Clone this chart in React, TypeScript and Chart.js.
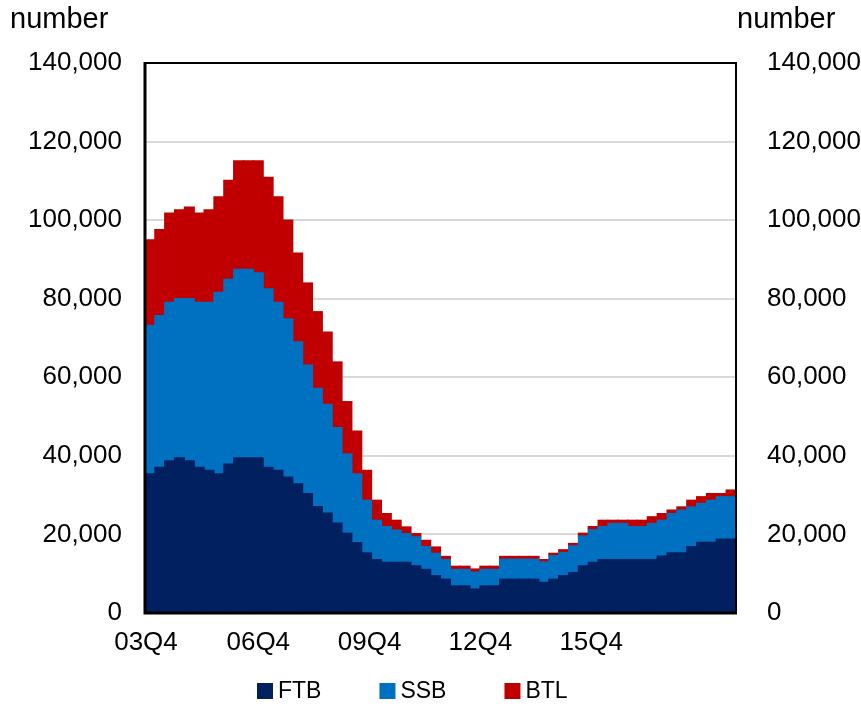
import React, { useEffect, useRef } from "react";
import { Chart, registerables } from "chart.js";
Chart.register(...registerables);

// Quarterly categories, 03Q4 .. 18Q3
const quarters = [
  "03Q4",
  "04Q1", "04Q2", "04Q3", "04Q4",
  "05Q1", "05Q2", "05Q3", "05Q4",
  "06Q1", "06Q2", "06Q3", "06Q4",
  "07Q1", "07Q2", "07Q3", "07Q4",
  "08Q1", "08Q2", "08Q3", "08Q4",
  "09Q1", "09Q2", "09Q3", "09Q4",
  "10Q1", "10Q2", "10Q3", "10Q4",
  "11Q1", "11Q2", "11Q3", "11Q4",
  "12Q1", "12Q2", "12Q3", "12Q4",
  "13Q1", "13Q2", "13Q3", "13Q4",
  "14Q1", "14Q2", "14Q3", "14Q4",
  "15Q1", "15Q2", "15Q3", "15Q4",
  "16Q1", "16Q2", "16Q3", "16Q4",
  "17Q1", "17Q2", "17Q3", "17Q4",
  "18Q1", "18Q2", "18Q3",
];

// First-time buyers
const ftb = [
  35400, 37100, 38700, 39500, 38700, 37100, 36300, 35400, 37900, 39500,
  39500, 39500, 37100, 36300, 34600, 32900, 30400, 27100, 25400, 22900,
  20300, 17900, 15300, 13600, 12900, 12900, 12900, 12000, 11100, 9500,
  8600, 6900, 6900, 6100, 6900, 6900, 8600, 8600, 8600, 8600,
  7800, 8600, 9500, 10300, 12000, 12900, 13600, 13600, 13600, 13600,
  13600, 13600, 14500, 15300, 15300, 16900, 18000, 18000, 18800, 18800,
];

// Second-step buyers
const ssb = [
  37800, 38600, 40400, 40500, 41300, 42000, 42800, 46200, 47000, 48000,
  48000, 47100, 45400, 42800, 40300, 36100, 32700, 30100, 27700, 24300,
  20200, 17500, 13400, 10000, 9100, 8200, 7300, 7400, 5800, 5700,
  5000, 4200, 4200, 4300, 4200, 4200, 5100, 5100, 5100, 5100,
  5200, 6000, 5900, 6800, 7600, 8300, 8400, 9200, 9200, 8400,
  8400, 9200, 9100, 10000, 10900, 10100, 9900, 10700, 10800, 10800,
];

// Buy-to-let
const btl = [
  21800, 21900, 22700, 22600, 23300, 22700, 23500, 24300, 25200, 27600,
  27600, 28500, 28400, 26800, 25100, 22600, 20900, 19500, 18400, 16700,
  13300, 10900, 7600, 5100, 3300, 2500, 1700, 800, 1600, 1600,
  800, 800, 800, 800, 800, 800, 700, 700, 700, 700,
  600, 600, 700, 600, 700, 800, 1600, 800, 800, 1600,
  1600, 1700, 1700, 900, 800, 1700, 1700, 1700, 800, 1700,
];

const seriesNames = ["FTB", "SSB", "BTL"];
const xTickLabels = ["03Q4", "06Q4", "09Q4", "12Q4", "15Q4"];
const yTicks = [0, 20000, 40000, 60000, 80000, 100000, 120000, 140000];

// layout / style (not data)
const xTickPositions = [0.1, 11.5, 22.8, 34.05, 45.3];
const colors = ["#002060", "#0070C0", "#C00000"];
const FONT = "'Liberation Sans', Arial, sans-serif";

export default function App() {
  const ref = useRef<HTMLCanvasElement | null>(null);

  useEffect(() => {
    if (!ref.current) return;
    const toPts = (arr: number[]) => arr.map((v, i) => ({ x: i + 0.5, y: v }));

    const overlay = {
      id: "overlay",
      afterDraw(chart: any) {
        const { ctx, chartArea: a } = chart;
        ctx.save();
        // frame
        ctx.strokeStyle = "#000";
        ctx.lineWidth = 2;
        ctx.beginPath();
        ctx.moveTo(a.left, a.top);
        ctx.lineTo(a.right, a.top);
        ctx.lineTo(a.right, a.bottom);
        ctx.stroke();
        ctx.lineWidth = 3;
        ctx.beginPath();
        ctx.moveTo(a.left, a.top - 1);
        ctx.lineTo(a.left, a.bottom);
        ctx.lineTo(a.right + 1, a.bottom);
        ctx.stroke();

        // axis unit titles
        ctx.fillStyle = "#000";
        ctx.font = `29px ${FONT}`;
        ctx.textBaseline = "alphabetic";
        ctx.textAlign = "left";
        ctx.fillText("number", 10, 28);
        ctx.fillText("number", a.right + 1, 28);

        // legend
        ctx.font = `23px ${FONT}`;
        ctx.textBaseline = "middle";
        const cy = 691;
        let x = 257;
        seriesNames.forEach((name, i) => {
          ctx.fillStyle = colors[i];
          ctx.fillRect(x, cy - 8, 16, 16);
          ctx.fillStyle = "#000";
          ctx.fillText(name, x + 21, cy + 1);
          x += 16 + 5 + ctx.measureText(name).width + 58;
        });
        ctx.restore();
      },
    };

    const chart = new Chart(ref.current, {
      type: "bar",
      data: {
        datasets: [ftb, ssb, btl].map((arr, i) => ({
          label: seriesNames[i],
          data: toPts(arr),
          backgroundColor: colors[i],
          borderWidth: 0,
          inflateAmount: 0.6,
          barPercentage: 1,
          categoryPercentage: 1,
          yAxisID: "y",
        })),
      },
      options: {
        responsive: false,
        animation: false,
        devicePixelRatio: 1,
        layout: { padding: { top: 63, left: 0, right: 0, bottom: 0 } },
        plugins: {
          legend: { display: false },
          tooltip: { enabled: false },
          title: { display: false },
        },
        scales: {
          x: {
            type: "linear",
            stacked: true,
            min: 0,
            max: quarters.length,
            offset: false,
            grid: { display: false, drawTicks: false },
            border: { display: false },
            afterBuildTicks: (scale: any) => {
              scale.ticks = xTickPositions.map((v) => ({ value: v }));
            },
            afterFit: (scale: any) => {
              scale.height = 100;
            },
            ticks: {
              autoSkip: false,
              maxRotation: 0,
              padding: 14,
              color: "#000",
              font: { family: FONT, size: 26 },
              callback: (_v: any, idx: number) => xTickLabels[idx],
            },
          },
          y: {
            type: "linear",
            position: "left",
            stacked: true,
            min: 0,
            max: 140000,
            afterBuildTicks: (scale: any) => {
              scale.ticks = yTicks.map((v) => ({ value: v }));
            },
            afterFit: (scale: any) => {
              scale.width = 145;
            },
            grid: { color: "#D9D9D9", lineWidth: 2, drawTicks: false },
            border: { display: false },
            ticks: {
              padding: 23,
              color: "#000",
              font: { family: FONT, size: 26 },
              callback: (v: any) => Number(v).toLocaleString("en-US"),
            },
          },
          y2: {
            type: "linear",
            position: "right",
            min: 0,
            max: 140000,
            afterBuildTicks: (scale: any) => {
              scale.ticks = yTicks.map((v) => ({ value: v }));
            },
            afterFit: (scale: any) => {
              scale.width = 125;
            },
            grid: { display: false, drawTicks: false },
            border: { display: false },
            ticks: {
              padding: 31,
              color: "#000",
              font: { family: FONT, size: 26 },
              callback: (v: any) => Number(v).toLocaleString("en-US"),
            },
          },
        },
      },
      plugins: [overlay],
    } as any);

    return () => chart.destroy();
  }, []);

  return (
    <div style={{ position: "absolute", left: 0, top: 0, width: 861, height: 713, background: "#fff" }}>
      <canvas ref={ref} width={861} height={713} style={{ display: "block" }} />
    </div>
  );
}
